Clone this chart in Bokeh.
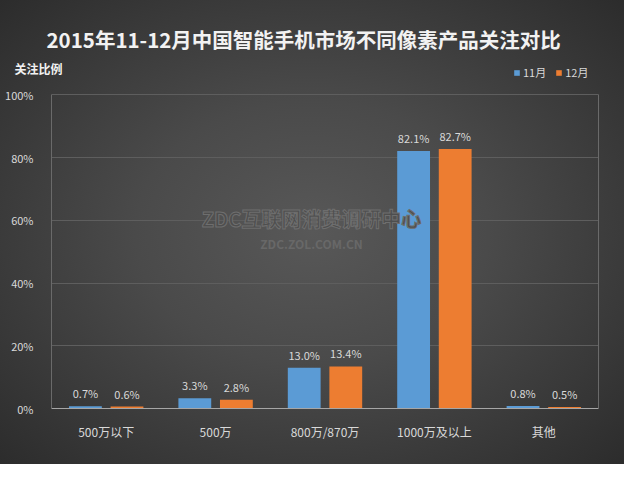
from bokeh.plotting import figure
from bokeh.models import (FactorRange, ColumnDataSource, Legend, LegendItem, Label, Title,
                          PrintfTickFormatter, FixedTicker, Range1d, LinearAxis)
from bokeh.transform import dodge
from bokeh.core.properties import value
from bokeh.embed import file_html
from bokeh.resources import INLINE

categories = ["500万以下", "500万", "800万/870万", "1000万及以上", "其他"]
series_names = ["11月", "12月"]
nov = [0.7, 3.3, 13.0, 82.1, 0.8]
dec = [0.6, 2.8, 13.4, 82.7, 0.5]
y_ticks = [0, 20, 40, 60, 80, 100]
colors = ["#5b9bd5", "#ed7d31"]

FONT = "Noto Sans CJK SC"
TXT = "#d9d9d9"
BORDER = "#6a6a6a"

src = ColumnDataSource(dict(
    cat=categories, nov=nov, dec=dec,
    nov_lbl=[f"{v:.1f}%" for v in nov],
    dec_lbl=[f"{v:.1f}%" for v in dec],
))

p = figure(x_range=FactorRange(*categories), y_range=Range1d(0, 110), title=None,
           width=624, height=464, output_backend="svg", toolbar_location=None,
           min_border_left=51, min_border_right=26, min_border_top=63, min_border_bottom=56)

p.styles = {"background": "radial-gradient(ellipse farthest-corner at 50% 50%, #585858 0%, #4a4a4a 40%, #2c2c2c 100%)"}
p.background_fill_alpha = 0
p.border_fill_alpha = 0
p.outline_line_color = None

off = 0.19
r1 = p.vbar(x=dodge("cat", -off, range=p.x_range), top="nov", width=0.3, source=src,
            fill_color=colors[0], line_color=None)
r2 = p.vbar(x=dodge("cat", off, range=p.x_range), top="dec", width=0.3, source=src,
            fill_color=colors[1], line_color=None)

for xo, col, lbl in ((-off, "nov", "nov_lbl"), (off, "dec", "dec_lbl")):
    p.text(x=dodge("cat", xo, range=p.x_range), y=col, text=lbl, source=src,
           text_align="center", text_baseline="middle", y_offset=-13,
           text_font=value(FONT), text_font_size="11px", text_color=TXT)

p.xaxis.axis_line_color = "#a6a6a6"
p.xaxis.major_tick_line_color = None
p.xaxis.minor_tick_line_color = None
p.xaxis.major_label_text_font = FONT
p.xaxis.major_label_text_font_size = "12px"
p.xaxis.major_label_text_color = TXT
p.xaxis.major_label_standoff = 8

p.yaxis.ticker = FixedTicker(ticks=y_ticks)
p.yaxis.bounds = (0, 100)
p.yaxis.formatter = PrintfTickFormatter(format="%d%%")
p.yaxis.axis_line_color = BORDER
p.yaxis.major_tick_line_color = None
p.yaxis.minor_tick_line_color = None
p.yaxis.major_label_text_font = FONT
p.yaxis.major_label_text_font_size = "11px"
p.yaxis.major_label_text_color = TXT
p.yaxis.major_label_standoff = 12

right_axis = LinearAxis(bounds=(0, 100), ticker=FixedTicker(ticks=[]),
                        axis_line_color=BORDER, major_tick_line_color=None,
                        minor_tick_line_color=None, major_label_standoff=0)
p.add_layout(right_axis, "right")

p.xgrid.grid_line_color = None
p.ygrid.grid_line_color = "#5e5e5e"

legend = Legend(items=[LegendItem(label=series_names[0], renderers=[r1]),
                       LegendItem(label=series_names[1], renderers=[r2])],
                location=(462, 328), orientation="horizontal",
                padding=0, margin=0, spacing=9, label_standoff=3,
                glyph_width=7, glyph_height=7,
                label_text_font=FONT, label_text_font_size="11px", label_text_color=TXT,
                background_fill_alpha=0, border_line_alpha=0)
p.add_layout(legend)

p.add_layout(Title(text="关注比例", align="left", offset=-37, standoff=-27,
                   text_font=FONT, text_font_size="12px", text_font_style="bold",
                   text_color="#f2f2f2"), "above")

p.add_layout(Title(text="2015年11-12月中国智能手机市场不同像素产品关注对比",
                   align="left", offset=-5, standoff=19,
                   text_font=FONT, text_font_size="20.5px", text_font_style="bold",
                   text_color="#f2f2f2"), "above")

p.add_layout(Label(x=260, y=190, x_units="screen", y_units="screen",
                   text="ZDC互联网消费调研中心", text_font=FONT, text_font_size="20px",
                   text_font_style="bold", text_color="#4e4e4e", text_outline_color="#6e6e6e",
                   text_align="center", text_baseline="middle"))
p.add_layout(Label(x=260, y=165, x_units="screen", y_units="screen",
                   text="ZDC.ZOL.COM.CN", text_font=FONT, text_font_size="12px",
                   text_font_style="bold", text_color="#686868",
                   text_align="center", text_baseline="middle"))

open("out.html", "w").write(file_html(p, INLINE))
